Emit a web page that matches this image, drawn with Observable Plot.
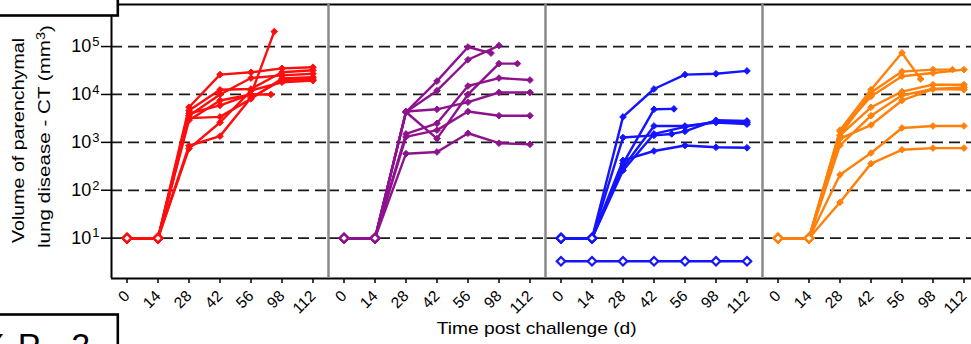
<!DOCTYPE html>
<html>
<head>
<meta charset="utf-8">
<script src="https://cdn.jsdelivr.net/npm/d3@7"></script>
<script src="https://cdn.jsdelivr.net/npm/@observablehq/plot@0.6"></script>
<style>
  html, body { margin: 0; padding: 0; background: #fff; overflow: hidden; }
  #chart { width: 971px; height: 344px; overflow: hidden; }
</style>
</head>
<body>
<div id="chart"></div>
<script>
// ---- data ----
const groups = ["A", "B", "C", "D"];
const groupColors = ["#ff0d0d", "#8e128e", "#1414ff", "#ff800a"];
const dayTicks = [0, 14, 28, 42, 56, 70, 84];
const dayLabels = ["0", "14", "28", "42", "56", "98", "112"];
const yTicks = [10, 100, 1000, 10000, 100000];
const xDomain = [-7, 91];
const yDomain = [1.44, 7.55e5];

const redSeries = [
  [[0,10],[14,10],[28,5.4e3],[42,2.6e4],[56,2.9e4],[70,3.5e4],[84,3.7e4]],
  [[0,10],[14,10],[28,4.6e3],[42,1.25e4],[56,1.3e4],[70,2.9e4],[84,3.2e4]],
  [[0,10],[14,10],[28,3.6e3],[42,1.0e4],[56,2.2e4],[70,2.5e4],[84,2.7e4]],
  [[0,10],[14,10],[28,2.9e3],[42,7.5e3],[56,1.0e4],[65,1.0e4]],
  [[0,10],[14,10],[28,4.0e3],[42,5.9e3],[56,1.0e4],[66.5,2.05e5]],
  [[0,10],[14,10],[28,3.2e3],[42,3.4e3],[56,8.1e3],[70,2.15e4],[84,2.3e4]],
  [[0,10],[14,10],[28,7.4e2],[42,2.6e3],[56,1.2e4],[70,1.8e4],[84,1.95e4]],
  [[0,10],[14,10],[28,8.5e2],[42,1.35e3],[56,8.5e3],[70,2.0e4],[84,2.1e4]]
];
const purpleSeries = [
  [[0,10],[14,10],[28,4.3e3],[42,1.9e4],[56,9.8e4],[66.4,7.3e4]],
  [[0,10],[14,10],[28,4.3e3],[42,1.2e4],[56,5.3e4],[70,1.05e5]],
  [[0,10],[14,10],[28,1.5e3],[42,2.5e3],[56,1.5e4],[70,2.2e4],[84,2.0e4]],
  [[0,10],[14,10],[28,4.3e3],[42,1.2e3],[56,1.0e4],[70,4.4e4],[78.3,4.4e4]],
  [[0,10],[14,10],[28,4.4e3],[42,4.9e3],[56,6.9e3],[70,1.1e4],[84,1.1e4]],
  [[0,10],[14,10],[28,1.3e3],[42,1.8e3],[56,4.4e3],[70,3.6e3],[84,3.6e3]],
  [[0,10],[14,10],[28,5.8e2],[42,6.3e2],[56,1.55e3],[70,9.6e2],[84,9.1e2]]
];
const blueSeries = [
  [[0,10],[14,10],[28,3.4e3],[42,1.3e4],[56,2.6e4],[70,2.7e4],[84,3.1e4]],
  [[0,10],[14,10],[28,3.6e2],[42,4.9e3],[51,5.0e3]],
  [[0,10],[14,10],[28,1.26e3],[42,1.4e3],[50,1.5e3],[56,1.7e3],[70,2.9e3],[84,2.8e3]],
  [[0,10],[14,10],[28,3.0e2],[42,2.2e3],[56,2.2e3],[70,2.6e3],[84,2.4e3]],
  [[0,10],[14,10],[28,2.6e2],[42,1.5e3],[56,2.1e3],[70,2.75e3],[84,2.6e3]],
  [[0,10],[14,10],[28,4.2e2],[42,6.6e2],[56,8.6e2],[70,7.9e2],[84,7.7e2]]
];
const blueControl = [[0,3.3],[14,3.3],[28,3.3],[42,3.3],[56,3.3],[70,3.3],[84,3.3]];
const orangeSeries = [
  [[0,10],[14,10],[28,1.8e3],[42,1.26e4],[56,7.4e4],[64.4,2.1e4]],
  [[0,10],[14,10],[28,1.4e3],[42,1.1e4],[56,3.0e4],[70,3.3e4],[78.8,3.3e4]],
  [[0,10],[14,10],[28,1.7e3],[42,9.1e3],[56,2.4e4],[70,2.8e4],[84,3.3e4]],
  [[0,10],[14,10],[28,1.4e3],[42,5.4e3],[56,1.15e4],[70,1.6e4],[84,1.6e4]],
  [[0,10],[14,10],[28,8.7e2],[42,3.6e3],[56,9.6e3],[70,1.3e4],[84,1.4e4]],
  [[0,10],[14,10],[28,1.2e3],[42,2.3e3],[56,7.5e3],[70,1.3e4],[84,1.26e4]],
  [[0,10],[14,10],[28,2.1e2],[42,6.0e2],[56,2.0e3],[70,2.2e3],[84,2.2e3]],
  [[0,10],[14,10],[28,56],[42,3.6e2],[56,7.0e2],[70,7.6e2],[84,7.6e2]]
];

// ---- build table ----
const rows = [];
function addSeries(g, list, prefix, allOpen) {
  list.forEach((s, i) => s.forEach(([t, v]) =>
    rows.push({g, key: prefix + i, t, v, open: allOpen || t <= 14})));
}
addSeries("A", redSeries, "r", false);
addSeries("B", purpleSeries, "p", false);
addSeries("C", blueSeries, "b", false);
addSeries("C", [blueControl], "bc", true);
addSeries("D", orangeSeries, "o", false);

const dividers = groups.slice(0, 3).map(g => ({g, x: xDomain[1]}));
const leftEdge = [{g: groups[0], x: xDomain[0]}];

const svg = Plot.plot({
  width: 979,
  height: 344,
  marginLeft: 110, marginRight: 0, marginTop: 4, marginBottom: 66,
  style: {fontFamily: "'Liberation Sans', Arial, sans-serif", background: "white", maxWidth: "none", overflow: "visible"},
  fx: {domain: groups, padding: 0, axis: null, label: null},
  x: {domain: xDomain, label: null},
  y: {type: "log", domain: yDomain, label: null},
  color: {domain: groups, range: groupColors},
  marks: [
    Plot.ruleY(yTicks, {stroke: "#1a1a1a", strokeWidth: 1.7, strokeDasharray: "11,6"}),
    Plot.ruleY([yDomain[1]], {stroke: "#000", strokeWidth: 2}),
    Plot.ruleY([yDomain[0]], {stroke: "#000", strokeWidth: 2}),
    Plot.ruleX(dividers, {x: "x", fx: "g", stroke: "#8a8a8a", strokeWidth: 2.5}),
    Plot.ruleX(leftEdge, {x: "x", fx: "g", stroke: "#000", strokeWidth: 2}),
    Plot.axisY({ticks: yTicks, tickSize: 10, tickPadding: 2, fontSize: 18,
      tickFormat: d => `10|${Math.round(Math.log10(d))}`, stroke: "#000", strokeWidth: 1.5, label: null}),
    Plot.axisX({ticks: dayTicks, tickFormat: d => dayLabels[dayTicks.indexOf(d)],
      tickRotate: -45, tickSize: 5, tickPadding: 10, fontSize: 15.5, stroke: "#000", strokeWidth: 1.5, label: null}),
    Plot.line(rows, {x: "t", y: "v", z: "key", fx: "g", stroke: "g", strokeWidth: 2.4}),
    Plot.dot(rows.filter(d => !d.open), {x: "t", y: "v", fx: "g", symbol: "diamond2", r: 3, fill: "g", stroke: "g", strokeWidth: 1}),
    Plot.dot(rows.filter(d => d.open), {x: "t", y: "v", fx: "g", symbol: "diamond2", r: 3.8, fill: "white", stroke: "g", strokeWidth: 2.2})
  ]
});
document.getElementById("chart").appendChild(svg);

// superscript exponents on y tick labels
d3.select(svg).selectAll("text").each(function() {
  const el = d3.select(this);
  const m = /^10\|(\d)$/.exec(el.text());
  if (m) {
    el.text("10");
    el.append("tspan").attr("dy", "-0.5em").attr("dx", "1").style("font-size", "13px").text(m[1]);
  }
});

// axis titles and panel boxes
const ann = d3.select(svg).append("g").attr("font-family", "'Liberation Sans', Arial, sans-serif").attr("fill", "#000");
ann.append("text").attr("x", 536.7).attr("y", 334).attr("text-anchor", "middle")
  .attr("font-size", 17).attr("textLength", 200).attr("lengthAdjust", "spacingAndGlyphs")
  .text("Time post challenge (d)");
ann.append("text").attr("transform", "translate(24,140.5) rotate(-90)").attr("text-anchor", "middle")
  .attr("font-size", 17).attr("textLength", 205).attr("lengthAdjust", "spacingAndGlyphs")
  .text("Volume of parenchymal");
const l2 = ann.append("text").attr("transform", "translate(50,136.5) rotate(-90)").attr("text-anchor", "middle")
  .attr("font-size", 17).attr("textLength", 223).attr("lengthAdjust", "spacingAndGlyphs");
l2.append("tspan").text("lung disease - CT (mm");
l2.append("tspan").attr("dy", "-0.45em").attr("font-size", "12px").text("3");
l2.append("tspan").attr("dy", "0.45em").text(")");

ann.append("rect").attr("x", -5).attr("y", -20).attr("width", 122.8).attr("height", 35.5)
  .attr("fill", "white").attr("stroke", "#000").attr("stroke-width", 2.6);
ann.append("rect").attr("x", -5).attr("y", 314.5).attr("width", 122.8).attr("height", 60)
  .attr("fill", "white").attr("stroke", "#000").attr("stroke-width", 2.6);
const xp = ann.append("text").attr("y", 357).attr("font-size", 34);
xp.append("tspan").attr("x", -7).text("X");
xp.append("tspan").attr("x", 29).text("P");
xp.append("tspan").attr("x", 76).text(" 2");
</script>
</body>
</html>
